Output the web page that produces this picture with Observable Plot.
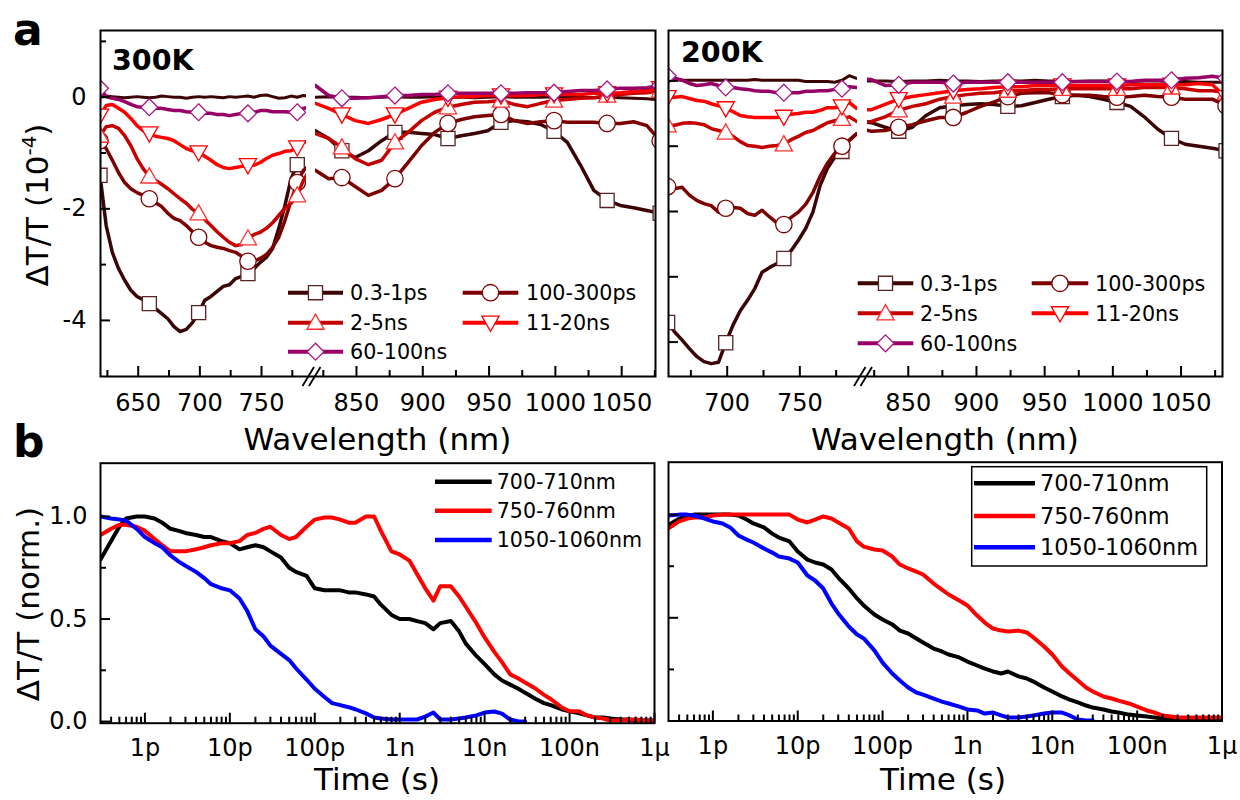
<!DOCTYPE html>
<html>
<head>
<meta charset="utf-8">
<script src="https://cdn.jsdelivr.net/npm/d3@7"></script>
<script src="https://cdn.jsdelivr.net/npm/@observablehq/plot@0.6"></script>
<style>
  body { margin: 0; background: #fff; }
  #fig { position: relative; width: 1240px; height: 800px; overflow: hidden; font-family: "DejaVu Sans", sans-serif; }
  #fig svg { position: absolute; left: 0; top: 0; overflow: visible; }
</style>
</head>
<body>
<div id="fig"></div>
<script>
// ---------------------------------------------------------------
// Transient spectra, ΔT/T in units of 1e-4, split at the axis break
// ---------------------------------------------------------------
const delayLabels = ["0.3-1ps", "100-300ps", "2-5ns", "11-20ns", "60-100ns"];

// 300 K, visible part (nm)
const wl300A = [619,624,629,634,639,644,649,654,659,664,669,674,679,684,689,694,699,704,709,714,719,724,729,734,739,744,749,754,759,764,769,774,779,784,789];
const mark300A = [619,659,699,739,779];
const s300A_ref = [0.00,0.02,0.01,0.00,-0.01,0.00,0.01,0.00,-0.01,0.00,0.02,0.01,0.00,0.00,-0.02,0.00,0.01,0.00,0.01,0.00,-0.01,0.01,0.00,0.01,0.02,0.00,0.03,0.04,0.01,-0.02,-0.01,0.02,0.00,0.03,0.02];
const s300A_03to1ps = [-1.40,-2.30,-2.78,-3.07,-3.28,-3.46,-3.57,-3.63,-3.70,-3.79,-3.88,-3.97,-4.11,-4.20,-4.16,-4.04,-3.86,-3.64,-3.57,-3.48,-3.39,-3.36,-3.25,-3.21,-3.16,-3.07,-2.96,-2.87,-2.71,-2.35,-1.94,-1.46,-1.21,-1.28,-1.28];
const s300A_100to300ps = [-0.78,-0.92,-1.13,-1.35,-1.53,-1.64,-1.71,-1.76,-1.82,-1.89,-1.96,-2.08,-2.17,-2.21,-2.30,-2.41,-2.51,-2.60,-2.66,-2.69,-2.71,-2.75,-2.78,-2.85,-2.94,-2.94,-2.89,-2.82,-2.69,-2.51,-2.21,-1.85,-1.53,-1.31,-1.22];
const s300A_2to5ns = [-0.69,-0.53,-0.51,-0.56,-0.69,-0.87,-1.10,-1.28,-1.42,-1.49,-1.56,-1.64,-1.73,-1.82,-1.90,-2.01,-2.08,-2.19,-2.30,-2.41,-2.51,-2.60,-2.66,-2.64,-2.53,-2.46,-2.42,-2.35,-2.25,-2.12,-1.99,-1.90,-1.76,-1.49,-1.31];
const s300A_11to20ns = [-0.33,-0.15,-0.13,-0.20,-0.27,-0.38,-0.51,-0.60,-0.65,-0.70,-0.72,-0.74,-0.78,-0.85,-0.92,-0.96,-0.99,-1.06,-1.13,-1.21,-1.26,-1.28,-1.26,-1.24,-1.22,-1.22,-1.17,-1.10,-1.04,-1.01,-0.97,-0.96,-0.90,-0.81,-0.78];
const s300A_60to100ns = [0.16,0.01,-0.02,-0.04,-0.08,-0.13,-0.17,-0.18,-0.18,-0.20,-0.20,-0.22,-0.24,-0.24,-0.26,-0.27,-0.27,-0.29,-0.29,-0.31,-0.31,-0.33,-0.31,-0.29,-0.29,-0.27,-0.24,-0.24,-0.26,-0.26,-0.26,-0.27,-0.27,-0.20,-0.18];

// 300 K, near-infrared part (nm)
const wl300B = [819,829,839,849,859,869,879,889,899,909,919,929,939,949,959,969,979,989,999,1009,1019,1029,1039,1049,1059,1069,1079];
const mark300B = [839,879,919,959,999,1039,1079];
const s300B_ref = [0.00,0.01,0.00,0.00,-0.01,0.00,0.01,0.00,0.00,0.01,0.00,0.00,-0.01,0.00,0.01,0.00,0.00,0.00,0.01,0.00,0.00,-0.01,0.00,-0.01,-0.02,-0.03,-0.05];
const s300B_03to1ps = [-0.60,-0.74,-0.96,-1.08,-0.96,-0.78,-0.63,-0.63,-0.65,-0.67,-0.74,-0.69,-0.65,-0.60,-0.45,-0.42,-0.44,-0.49,-0.61,-0.81,-1.22,-1.67,-1.85,-1.94,-1.98,-2.03,-2.08];
const s300B_100to300ps = [-1.31,-1.46,-1.44,-1.60,-1.76,-1.67,-1.46,-1.17,-0.87,-0.63,-0.47,-0.40,-0.35,-0.33,-0.31,-0.42,-0.47,-0.44,-0.42,-0.45,-0.45,-0.45,-0.47,-0.47,-0.44,-0.51,-0.78];
const s300B_2to5ns = [-0.65,-0.74,-0.90,-1.10,-1.21,-1.13,-0.81,-0.63,-0.42,-0.27,-0.18,-0.13,-0.09,-0.08,-0.06,-0.13,-0.17,-0.11,-0.06,-0.04,-0.02,-0.01,0.03,0.05,0.07,0.08,0.12];
const s300B_11to20ns = [-0.11,-0.20,-0.31,-0.42,-0.47,-0.40,-0.31,-0.20,-0.09,-0.04,-0.01,0.01,0.01,0.03,0.03,0.03,0.03,0.05,0.05,0.05,0.05,0.07,0.07,0.08,0.10,0.12,0.16];
const s300B_60to100ns = [0.21,0.03,-0.02,-0.02,-0.01,0.01,0.03,0.03,0.05,0.05,0.07,0.07,0.07,0.07,0.07,0.07,0.08,0.08,0.08,0.10,0.12,0.12,0.14,0.16,0.16,0.17,0.21];

// 200 K, visible part (nm)
const wl200A = [659,664,669,674,679,684,689,694,699,704,709,714,719,724,729,734,739,744,749,754,759,764,769,774,779,784,789];
const mark200A = [659,699,739,779];
const s200A_ref = [0.04,0.02,0.01,0.01,0.01,0.01,0.01,0.01,0.01,0.01,0.01,0.01,0.02,0.01,0.01,0.01,0.01,0.01,0.01,-0.01,-0.01,-0.01,-0.01,-0.02,0.01,0.08,0.04];
const s200A_03to1ps = [-3.70,-3.85,-3.97,-4.10,-4.22,-4.30,-4.33,-4.31,-4.01,-3.74,-3.52,-3.36,-3.18,-2.93,-2.86,-2.80,-2.72,-2.60,-2.44,-2.26,-2.01,-1.60,-1.34,-1.17,-1.08,-0.91,-0.81];
const s200A_100to300ps = [-1.62,-1.65,-1.63,-1.75,-1.83,-1.88,-1.91,-2.01,-1.95,-1.94,-1.95,-2.03,-2.06,-1.98,-2.08,-2.17,-2.20,-2.09,-2.01,-1.89,-1.71,-1.46,-1.26,-1.11,-1.00,-0.91,-0.81];
const s200A_2to5ns = [-0.68,-0.68,-0.65,-0.64,-0.65,-0.67,-0.73,-0.76,-0.79,-0.85,-0.93,-0.99,-1.00,-1.02,-1.00,-0.99,-0.97,-0.90,-0.85,-0.79,-0.76,-0.70,-0.64,-0.61,-0.58,-0.55,-0.62];
const s200A_11to20ns = [-0.25,-0.25,-0.24,-0.27,-0.30,-0.31,-0.35,-0.38,-0.42,-0.47,-0.53,-0.55,-0.56,-0.56,-0.56,-0.56,-0.55,-0.51,-0.50,-0.48,-0.48,-0.45,-0.41,-0.41,-0.39,-0.33,-0.42];
const s200A_60to100ns = [0.08,0.04,0.01,-0.04,-0.07,-0.06,-0.04,-0.07,-0.10,-0.10,-0.12,-0.13,-0.15,-0.16,-0.16,-0.18,-0.18,-0.18,-0.18,-0.16,-0.16,-0.15,-0.15,-0.13,-0.12,-0.09,-0.10];

// 200 K, near-infrared part (nm)
const wl200B = [813,823,833,843,853,863,873,883,893,903,913,923,933,943,953,963,973,983,993,1003,1013,1023,1033,1043,1053,1063,1073,1083];
const mark200B = [843,883,923,963,1003,1043,1083];
const s200B_ref = [0.00,0.00,0.00,-0.01,0.00,0.00,0.01,0.00,0.00,-0.01,0.00,0.00,0.00,0.01,0.00,0.00,-0.01,0.00,0.00,0.00,-0.01,0.00,0.00,-0.01,-0.01,-0.02,-0.02,-0.02];
const s200B_03to1ps = [-0.62,-0.64,-0.71,-0.77,-0.71,-0.53,-0.41,-0.38,-0.36,-0.35,-0.36,-0.39,-0.38,-0.33,-0.28,-0.24,-0.22,-0.24,-0.28,-0.33,-0.39,-0.55,-0.74,-0.88,-0.97,-1.00,-1.03,-1.07];
const s200B_100to300ps = [-0.73,-0.77,-0.76,-0.71,-0.67,-0.61,-0.56,-0.56,-0.48,-0.39,-0.32,-0.24,-0.19,-0.18,-0.18,-0.21,-0.22,-0.22,-0.24,-0.25,-0.24,-0.22,-0.24,-0.25,-0.28,-0.28,-0.28,-0.38];
const s200B_2to5ns = [-0.64,-0.62,-0.55,-0.45,-0.39,-0.35,-0.28,-0.24,-0.21,-0.19,-0.18,-0.15,-0.15,-0.13,-0.13,-0.12,-0.12,-0.12,-0.12,-0.12,-0.12,-0.10,-0.10,-0.10,-0.12,-0.15,-0.15,-0.18];
const s200B_11to20ns = [-0.45,-0.44,-0.36,-0.28,-0.24,-0.21,-0.18,-0.15,-0.13,-0.12,-0.10,-0.09,-0.09,-0.07,-0.07,-0.07,-0.07,-0.07,-0.07,-0.07,-0.06,-0.06,-0.06,-0.06,-0.06,-0.04,-0.06,-0.25];
const s200B_60to100ns = [0.04,0.02,-0.07,-0.06,-0.02,-0.02,-0.02,-0.04,-0.02,-0.02,-0.02,-0.02,-0.02,-0.02,-0.02,-0.02,-0.01,-0.01,-0.01,-0.01,-0.01,0.01,0.01,0.01,0.04,0.05,0.07,0.04];

// ---------------------------------------------------------------
// Normalised kinetics, delay in ps
// ---------------------------------------------------------------
const kineticLabels = ["700-710nm", "750-760nm", "1050-1060nm"];
const delayPs = [0.3,0.4,0.5,0.6,0.8,1,1.3,1.6,2,2.5,3,4,5,6,8,10,13,16,20,25,30,40,50,60,80,100,130,160,200,250,300,400,500,600,800,1000,1300,1600,2000,2500,3000,4000,5000,6000,8000,10000,13000,16000,20000,25000,30000,40000,50000,60000,80000,100000,130000,160000,200000,250000,300000,400000,500000,600000,800000,1000000];

const k300_700 = [0.79,0.88,0.95,0.99,1.00,1.00,0.99,0.97,0.94,0.93,0.92,0.91,0.90,0.90,0.88,0.87,0.84,0.85,0.86,0.85,0.83,0.80,0.75,0.73,0.71,0.65,0.64,0.64,0.64,0.63,0.63,0.62,0.61,0.57,0.52,0.50,0.50,0.49,0.48,0.45,0.48,0.49,0.44,0.38,0.32,0.28,0.23,0.20,0.18,0.16,0.14,0.11,0.09,0.08,0.06,0.05,0.04,0.03,0.02,0.02,0.015,0.01,0.01,0.005,0.005,0.005];
const k300_750 = [0.91,0.94,0.96,0.96,0.95,0.93,0.89,0.86,0.83,0.83,0.83,0.84,0.85,0.86,0.87,0.87,0.88,0.91,0.92,0.94,0.95,0.91,0.89,0.90,0.95,0.985,0.995,0.995,0.985,0.97,0.97,1.00,1.00,0.93,0.83,0.815,0.785,0.72,0.65,0.59,0.66,0.66,0.61,0.56,0.48,0.41,0.34,0.29,0.23,0.21,0.19,0.16,0.13,0.11,0.07,0.05,0.05,0.03,0.02,0.015,0.005,0.005,0.01,0.01,0.005,0.005];
const k300_1050 = [1.00,0.99,0.985,0.98,0.94,0.90,0.87,0.85,0.81,0.78,0.76,0.73,0.70,0.67,0.65,0.64,0.60,0.54,0.45,0.415,0.37,0.33,0.30,0.26,0.205,0.16,0.12,0.09,0.08,0.07,0.06,0.04,0.02,0.015,0.01,0.01,0.01,0.01,0.024,0.044,0.01,0.01,0.015,0.02,0.03,0.044,0.049,0.039,0.01,0.0,0.0];

const k200_700 = [0.95,0.98,0.996,1.00,1.00,1.00,1.00,1.00,0.996,0.976,0.957,0.938,0.908,0.889,0.870,0.821,0.782,0.768,0.758,0.734,0.695,0.642,0.594,0.560,0.516,0.492,0.468,0.438,0.424,0.400,0.380,0.351,0.337,0.322,0.308,0.288,0.269,0.254,0.240,0.230,0.240,0.216,0.206,0.191,0.162,0.143,0.119,0.104,0.090,0.075,0.065,0.056,0.046,0.041,0.031,0.027,0.022,0.017,0.012,0.012,0.007,0.007,0.002,0.002,0.002,0.002];
const k200_750 = [0.933,0.967,0.981,0.986,0.986,0.996,1.00,1.00,1.00,1.00,1.00,1.00,1.00,1.00,1.00,0.976,0.962,0.976,0.991,0.981,0.962,0.933,0.870,0.845,0.831,0.826,0.797,0.758,0.739,0.724,0.710,0.666,0.637,0.613,0.584,0.560,0.511,0.477,0.448,0.438,0.434,0.438,0.429,0.405,0.361,0.322,0.264,0.230,0.196,0.162,0.143,0.119,0.109,0.099,0.085,0.070,0.051,0.041,0.027,0.022,0.017,0.017,0.017,0.017,0.017,0.017];
const k200_1050 = [0.996,1.00,1.00,0.996,0.981,0.967,0.957,0.938,0.899,0.879,0.865,0.836,0.816,0.797,0.787,0.768,0.705,0.681,0.642,0.569,0.521,0.458,0.419,0.400,0.342,0.283,0.230,0.196,0.162,0.138,0.128,0.109,0.094,0.085,0.070,0.056,0.051,0.036,0.041,0.027,0.017,0.017,0.022,0.027,0.036,0.041,0.041,0.027,0.007,0.002,0.002];

// Axis ticks and their labels
const nmMajor300A = [650, 700, 750], nmMinor300A = [625, 675, 725, 775];
const nmMajor200A = [700, 750],      nmMinor200A = [675, 725, 775];
const nmMajorB = [850, 900, 950, 1000, 1050], nmMinorB = [825, 875, 925, 975, 1025, 1075];
const timeTicks = [1e-12, 1e-11, 1e-10, 1e-9, 1e-8, 1e-7, 1e-6];
const timeTickLabels = ["1p", "10p", "100p", "1n", "10n", "100n", "1μ"];
const normTicks = [0, 0.5, 1.0], normTickLabels = ["0.0", "0.5", "1.0"], normMinor = [0.25, 0.75];

// ---------------------------------------------------------------
// Styling
// ---------------------------------------------------------------
const W = 1240, H = 800;
const FIG = document.getElementById("fig");
const refColor = "#3a0404";
const delayColors = ["#3c0505", "#7d0000", "#c40000", "#ff0000", "#990066"];
const markerStrokes = ["#5a2222", "#7d0000", "#ff3030", "#ff0000", "#a3168a"];
const kineticColors = ["#000000", "#ff0000", "#0000ff"];
const markerR = 8.2;

// open marker shapes (size is the area handed over by Plot.dot)
const rOf = size => Math.sqrt(size / Math.PI);
const symSquare = {draw(c, size) { const h = rOf(size) * 0.86; c.moveTo(-h, -h); c.lineTo(h, -h); c.lineTo(h, h); c.lineTo(-h, h); c.closePath(); }};
const symCircle = {draw(c, size) { const r = rOf(size); c.moveTo(r, 0); c.arc(0, 0, r, 0, 2 * Math.PI); c.closePath(); }};
const symTriUp = {draw(c, size) { const r = rOf(size); c.moveTo(0, -1.05 * r); c.lineTo(1.05 * r, 0.8 * r); c.lineTo(-1.05 * r, 0.8 * r); c.closePath(); }};
const symTriDown = {draw(c, size) { const r = rOf(size); c.moveTo(0, 1.05 * r); c.lineTo(1.05 * r, -0.8 * r); c.lineTo(-1.05 * r, -0.8 * r); c.closePath(); }};
const symDiamond = {draw(c, size) { const r = rOf(size) * 1.03; c.moveTo(0, -r); c.lineTo(r, 0); c.lineTo(0, r); c.lineTo(-r, 0); c.closePath(); }};
const delaySymbols = [symSquare, symCircle, symTriUp, symTriDown, symDiamond];
// the "//" axis-break sign
const symBreak = {draw(c) { c.moveTo(-9, 9.5); c.lineTo(2.5, -9.5); c.moveTo(-2.5, 9.5); c.lineTo(9, -9.5); }};

const baseStyle = {background: "transparent", overflow: "visible", fontFamily: "DejaVu Sans", fontSize: "24px", color: "black"};
const box = (l, r, t, b) => ({width: W, height: H, marginLeft: l, marginRight: W - r, marginTop: t, marginBottom: H - b});
const fmt = d => String(d);

// One side of a broken wavelength axis
function spectrumSegment({l, r, t, b, xdom, ydom, wls, ref, series, markAt, majorX, minorX, breakDx}) {
  const fh = b - t;
  const marks = [
    Plot.line(wls.map((w, i) => ({w, v: ref[i]})), {x: "w", y: "v", stroke: refColor, strokeWidth: 3, clip: true})
  ];
  series.forEach((vals, k) => {
    const rows = wls.map((w, i) => ({w, v: vals[i]}));
    marks.push(Plot.line(rows, {x: "w", y: "v", stroke: delayColors[k], strokeWidth: 3.5, strokeLinejoin: "round", clip: true}));
    marks.push(Plot.dot(rows.filter(d => markAt.includes(d.w)), {
      x: "w", y: "v", symbol: delaySymbols[k], r: markerR, fill: "white",
      stroke: markerStrokes[k], strokeWidth: 1.3, clip: true
    }));
  });
  marks.push(
    Plot.tickX(majorX, {x: d => d, insetTop: fh - 10, strokeWidth: 2}),
    Plot.tickX(minorX, {x: d => d, insetTop: fh - 6, strokeWidth: 2}),
    Plot.axisX(majorX, {tickSize: 0, tickPadding: 17, fontSize: 24, tickFormat: fmt, label: null})
  );
  if (breakDx != null) {
    marks.push(Plot.dot([xdom[1]], {x: d => d, y: () => ydom[0], dx: breakDx, symbol: symBreak, r: 10, fill: "none", stroke: "black", strokeWidth: 1.8}));
  }
  return Plot.plot({...box(l, r, t, b), style: baseStyle,
    x: {domain: xdom, label: null}, y: {domain: ydom, axis: null, label: null}, marks});
}

// Frame and ordinate of a spectra panel
function spectrumFrame({l, r, t, b, ydom, major, minor, labels}) {
  const fw = r - l;
  const marks = [
    Plot.tickY(major, {y: d => d, insetRight: fw - 10, strokeWidth: 2}),
    Plot.tickY(minor, {y: d => d, insetRight: fw - 6, strokeWidth: 2}),
    Plot.frame({stroke: "black", strokeWidth: 2})
  ];
  if (labels) marks.push(Plot.axisY(labels, {tickSize: 0, tickPadding: 14, fontSize: 24, tickFormat: fmt, label: null}));
  return Plot.plot({...box(l, r, t, b), style: baseStyle, x: {domain: [0, 1], axis: null, label: null},
    y: labels ? {domain: ydom, label: null} : {domain: ydom, axis: null, label: null}, marks});
}

// Kinetics panel on a logarithmic time axis
function kineticsPanel({l, r, t, b, ydom, traces, yLabels}) {
  const fh = b - t, fw = r - l;
  const minorT = [];
  for (let e = -13; e <= -7; e++) for (let m = 2; m <= 9; m++) {
    const v = m * Math.pow(10, e);
    if (v > 3.05e-13 && v < 0.99e-6) minorT.push(v);
  }
  const tickLabel = new Map(timeTicks.map((v, i) => [v, timeTickLabels[i]]));
  const marks = [];
  traces.forEach((vals, k) => {
    const rows = vals.map((v, i) => ({t: delayPs[i] * 1e-12, v}));
    marks.push(Plot.line(rows, {x: "t", y: "v", stroke: kineticColors[k], strokeWidth: 4, strokeLinejoin: "round", clip: true}));
  });
  marks.push(
    Plot.tickX(timeTicks, {x: d => d, insetTop: fh - 10, strokeWidth: 2}),
    Plot.tickX(minorT, {x: d => d, insetTop: fh - 6, strokeWidth: 2}),
    Plot.axisX(timeTicks, {tickSize: 0, tickPadding: 16, fontSize: 24, tickFormat: d => tickLabel.get(d), label: null}),
    Plot.tickY(normTicks, {y: d => d, insetRight: fw - 10, strokeWidth: 2}),
    Plot.tickY(normMinor, {y: d => d, insetRight: fw - 6, strokeWidth: 2}),
    Plot.frame({stroke: "black", strokeWidth: 2})
  );
  const normLabel = new Map(normTicks.map((v, i) => [v, normTickLabels[i]]));
  if (yLabels) marks.push(Plot.axisY(normTicks, {tickSize: 0, tickPadding: 13, fontSize: 24, tickFormat: d => normLabel.get(d), label: null}));
  return Plot.plot({...box(l, r, t, b), style: baseStyle,
    x: {type: "log", domain: [3e-13, 1e-6], label: null},
    y: yLabels ? {domain: ydom, label: null} : {domain: ydom, axis: null, label: null}, marks});
}

// ---------------------------------------------------------------
// Panels
// ---------------------------------------------------------------
const y300 = [-5.005, 1.195];
const y200 = [-4.527, 0.772];

FIG.append(spectrumSegment({l: 100, r: 306, t: 30, b: 376, xdom: [619.4, 786.5], ydom: y300,
  wls: wl300A, ref: s300A_ref, markAt: mark300A,
  series: [s300A_03to1ps, s300A_100to300ps, s300A_2to5ns, s300A_11to20ns, s300A_60to100ns],
  majorX: nmMajor300A, minorX: nmMinor300A, breakDx: 5}));
FIG.append(spectrumSegment({l: 315, r: 655, t: 30, b: 376, xdom: [819.1, 1075.5], ydom: y300,
  wls: wl300B, ref: s300B_ref, markAt: mark300B,
  series: [s300B_03to1ps, s300B_100to300ps, s300B_2to5ns, s300B_11to20ns, s300B_60to100ns],
  majorX: nmMajorB, minorX: nmMinorB}));
FIG.append(spectrumFrame({l: 100, r: 655, t: 30, b: 376, ydom: y300, major: [-4, -2, 0], minor: [-3, -1, 1], labels: [-4, -2, 0]}));

FIG.append(spectrumSegment({l: 668, r: 857, t: 30, b: 376, xdom: [659.6, 789.7], ydom: y200,
  wls: wl200A, ref: s200A_ref, markAt: mark200A,
  series: [s200A_03to1ps, s200A_100to300ps, s200A_2to5ns, s200A_11to20ns, s200A_60to100ns],
  majorX: nmMajor200A, minorX: nmMinor200A, breakDx: 5.5}));
FIG.append(spectrumSegment({l: 867, r: 1222, t: 30, b: 376, xdom: [820.1, 1080.4], ydom: y200,
  wls: wl200B, ref: s200B_ref, markAt: mark200B,
  series: [s200B_03to1ps, s200B_100to300ps, s200B_2to5ns, s200B_11to20ns, s200B_60to100ns],
  majorX: nmMajorB, minorX: nmMinorB}));
FIG.append(spectrumFrame({l: 668, r: 1222, t: 30, b: 376, ydom: y200, major: [-4, -3, -2, -1, 0], minor: []}));

FIG.append(kineticsPanel({l: 100, r: 654, t: 462.7, b: 722.7, ydom: [-0.008, 1.26],
  traces: [k300_700, k300_750, k300_1050], yLabels: true}));
FIG.append(kineticsPanel({l: 668, r: 1221.5, t: 461.7, b: 720.5, ydom: [0, 1.254],
  traces: [k200_700, k200_750, k200_1050], yLabels: false}));

// ---------------------------------------------------------------
// Titles, panel letters and legends
// ---------------------------------------------------------------
const ann = d3.create("svg").attr("width", W).attr("height", H)
  .attr("font-family", "DejaVu Sans").attr("fill", "black");

function label(x, y, s, size, opts = {}) {
  return ann.append("text").attr("x", x).attr("y", y).attr("font-size", size)
    .attr("font-weight", opts.weight || null).attr("text-anchor", opts.anchor || "start").text(s);
}
label(13, 45, "a", 44, {weight: "bold"});
label(13, 457, "b", 44, {weight: "bold"});
label(112, 70, "300K", 28.5, {weight: "bold"});
label(681, 61.5, "200K", 28.5, {weight: "bold"});
label(377.5, 450, "Wavelength (nm)", 31, {anchor: "middle"});
label(945, 450, "Wavelength (nm)", 31, {anchor: "middle"});
label(377, 790, "Time (s)", 31, {anchor: "middle"});
label(943, 790, "Time (s)", 31, {anchor: "middle"});

const yt1 = ann.append("text").attr("transform", "translate(48.3,205) rotate(-90)")
  .attr("text-anchor", "middle").attr("font-size", 31);
yt1.append("tspan").text("ΔT/T (10");
yt1.append("tspan").attr("font-size", 20).attr("dy", -12).text("-4");
yt1.append("tspan").attr("dy", 12).text(")");
ann.append("text").attr("transform", "translate(38.5,604) rotate(-90)")
  .attr("text-anchor", "middle").attr("font-size", 31).text("ΔT/T (norm.)");

function symPath(sym) { const p = d3.path(); sym.draw(p, markerR * markerR * Math.PI); return p.toString(); }

function delayLegend(cols, rowsY, fs) {
  // cols: [{x1, x2, tx, items: [series index ...]}]
  cols.forEach(col => col.items.forEach((k, j) => {
    const y = rowsY[j];
    ann.append("line").attr("x1", col.x1).attr("x2", col.x2).attr("y1", y).attr("y2", y)
      .attr("stroke", delayColors[k]).attr("stroke-width", 4);
    ann.append("path").attr("d", symPath(delaySymbols[k]))
      .attr("transform", `translate(${(col.x1 + col.x2) / 2},${y})`)
      .attr("fill", "white").attr("stroke", markerStrokes[k]).attr("stroke-width", 1.3);
    ann.append("text").attr("x", col.tx).attr("y", y + fs * 0.36).attr("font-size", fs).text(delayLabels[k]);
  }));
}
delayLegend([{x1: 288, x2: 343, tx: 350, items: [0, 2, 4]}, {x1: 462.7, x2: 518.3, tx: 526, items: [1, 3]}],
  [292.7, 322.7, 351.7], 20.7);
delayLegend([{x1: 857.7, x2: 913.3, tx: 920, items: [0, 2, 4]}, {x1: 1031.7, x2: 1088.3, tx: 1095, items: [1, 3]}],
  [283.3, 313.3, 343.3], 20.7);

function kineticLegend(x1, x2, tx, rowsY, fs) {
  kineticLabels.forEach((s, k) => {
    const y = rowsY[k];
    ann.append("line").attr("x1", x1).attr("x2", x2).attr("y1", y).attr("y2", y)
      .attr("stroke", kineticColors[k]).attr("stroke-width", 4.5);
    ann.append("text").attr("x", tx).attr("y", y + fs * 0.36).attr("font-size", fs).text(s);
  });
}
kineticLegend(435, 491.7, 496.7, [481.7, 510.7, 540], 20.6);
ann.append("rect").attr("x", 971.7).attr("y", 466.7).attr("width", 235).attr("height", 99.3)
  .attr("fill", "white").attr("stroke", "black").attr("stroke-width", 1.5);
kineticLegend(974, 1035, 1040, [483.3, 516, 547.3], 22.4);

FIG.append(ann.node());
</script>
</body>
</html>
